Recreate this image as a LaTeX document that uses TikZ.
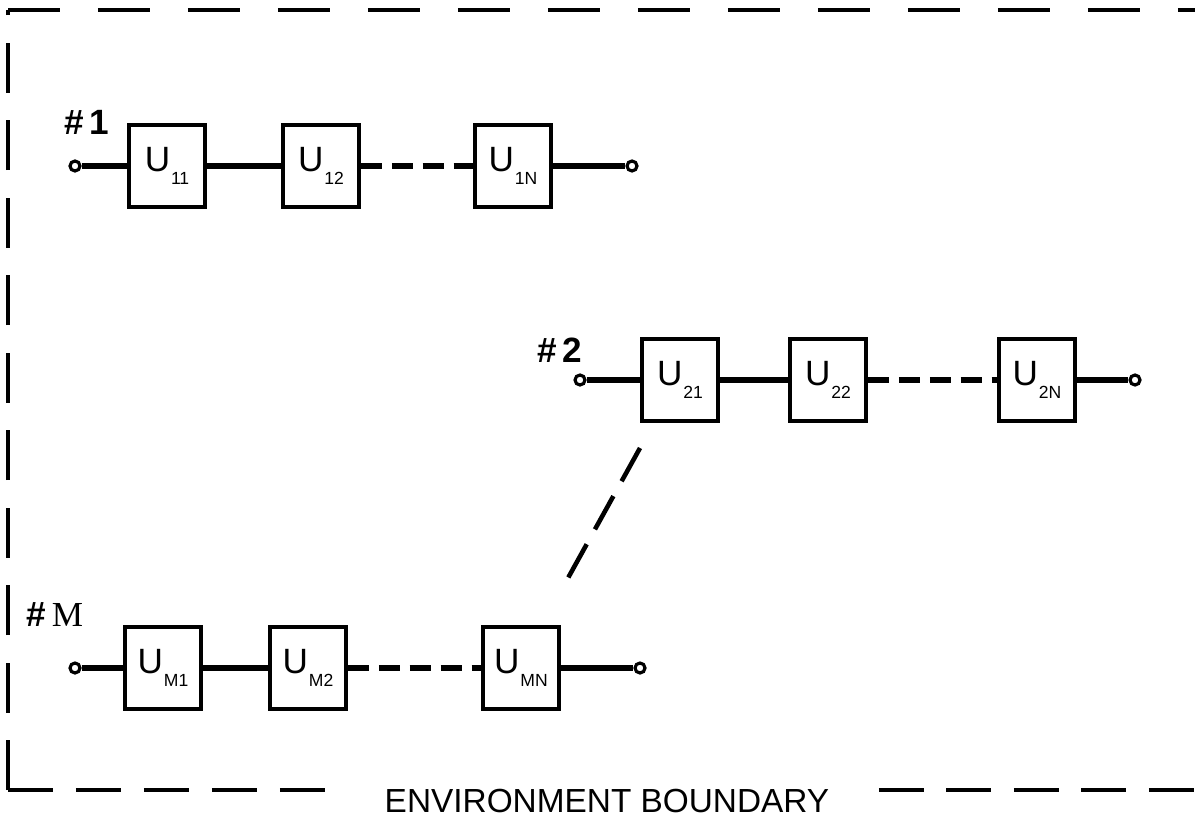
\documentclass[tikz,border=0pt]{standalone}
\usepackage{fontspec}
\setmainfont{Liberation Sans}
\newfontfamily\serifM{Liberation Serif}
\usetikzlibrary{positioning}

\newcommand{\usub}[1]{U\kern0.5pt\raisebox{-0.35em}{\fontsize{10}{11}\selectfont #1}}

\begin{document}
\begin{tikzpicture}[x=0.02cm, y=-0.02cm,
  every node/.style={font=\fontsize{20}{22}\selectfont},
  unitbox/.style={draw, line width=2pt, minimum width=1.52cm, minimum height=1.64cm, inner sep=0pt},
  term/.style={draw, circle, line width=1.8pt, minimum size=0.2cm, inner sep=0pt, fill=white},
  wire/.style={line width=3.4pt},
  gapwire/.style={wire, dash pattern=on 0.42cm off 0.2cm},
  tag/.style={font=\fontsize{20}{22}\selectfont\bfseries, anchor=west, inner sep=0pt},
  boundline/.style={line width=2pt, dash pattern=on 1.05cm off 0.75cm}]
  \useasboundingbox (0,0) rectangle (1195,828);

  % environment boundary
  \coordinate (ctl) at (8,10);
  \coordinate (ctr) at (1195,10);
  \coordinate (cbl) at (8,790);
  \coordinate (cbr) at (1195,790);
  \node[font=\fontsize{19}{21}\selectfont, inner xsep=28pt] (envlabel) at (607,801) {ENVIRONMENT BOUNDARY};
  \draw[boundline] (ctl) -- (ctr);
  \draw[boundline, dash pattern=on 1.0cm off 0.55cm] (cbl) -- (ctl);
  \draw[boundline, dash pattern=on 0.9cm off 0.46cm] (cbl) -- (cbl -| envlabel.west);
  \draw[boundline, dash pattern=on 0.9cm off 0.45cm] (cbl -| envlabel.east) -- (cbr);

  % chain #1
  \node[tag] (h1) at (64,122) {\#\,1};
  \node[term] (a1) at (75,166) {};
  \node[unitbox] (u11) at (167,166) {\usub{11}};
  \node[unitbox] (u12) at (321,166) {\usub{12}};
  \node[unitbox] (u1n) at (513,166) {\usub{1N}};
  \node[term] (b1) at (632,166) {};
  \draw[wire] (a1) -- (u11);
  \draw[wire] (u11) -- (u12);
  \draw[gapwire] (u12) -- (u1n);
  \draw[wire] (u1n) -- (b1);

  % chain #2
  \node[tag] (h2) at (537,350) {\#\,2};
  \node[term] (a2) at (580,380) {};
  \node[unitbox] (u21) at (680,380) {\usub{21}};
  \node[unitbox] (u22) at (828,380) {\usub{22}};
  \node[unitbox] (u2n) at (1037,380) {\usub{2N}};
  \node[term] (b2) at (1135,380) {};
  \draw[wire] (a2) -- (u21);
  \draw[wire] (u21) -- (u22);
  \draw[gapwire] (u22) -- (u2n);
  \draw[wire] (u2n) -- (b2);

  % chain #M
  \node[tag] (hm) at (26,615) {\#\,{\mdseries\serifM M}};
  \node[term] (am) at (75,668) {};
  \node[unitbox] (um1) at (163,668) {\usub{M1}};
  \node[unitbox] (um2) at (308,668) {\usub{M2}};
  \node[unitbox] (umn) at (521,668) {\usub{MN}};
  \node[term] (bm) at (640,668) {};
  \draw[wire] (am) -- (um1);
  \draw[wire] (um1) -- (um2);
  \draw[gapwire] (um2) -- (umn);
  \draw[wire] (umn) -- (bm);

  % further chains
  \coordinate (dtop) at (640,448);
  \coordinate (dbot) at (568,578);
  \draw[wire, line width=2.6pt, dash pattern=on 0.76cm off 0.34cm] (dtop) -- (dbot);
\end{tikzpicture}
\end{document}
